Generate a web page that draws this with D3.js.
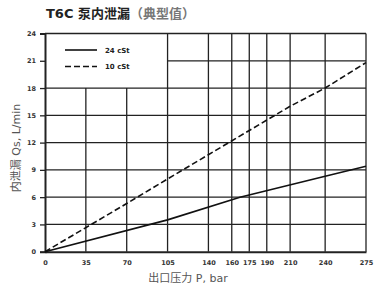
<!DOCTYPE html>
<html>
<head>
<meta charset="utf-8">
<script src="https://cdn.jsdelivr.net/npm/d3@7"></script>
<style>
  body { margin: 0; background: #fff; }
  text { font-family: "DejaVu Sans", "Noto Sans CJK SC", sans-serif; }
</style>
</head>
<body>
<div class="chart"></div>
<script>
// Data
const xTicks = [0, 35, 70, 105, 140, 160, 175, 190, 210, 240, 275];
const yTicks = [0, 3, 6, 9, 12, 15, 18, 21, 24];
const pressure24 = [0, 105, 167, 240, 275];
const leak24 = [0, 3.5, 6, 8.3, 9.4];
const pressure10 = [0, 70, 105, 210, 240, 275];
const leak10 = [0, 5.3, 8, 16, 18, 20.8];

const w = 374, h = 291;
const plotLeft = 45, plotRight = 366, plotTop = 33.5, plotBottom = 251.7;

const svg = d3.select('.chart').append('svg').attr('width', w).attr('height', h);

const x = d3.scaleLinear().domain([0, 275]).range([plotLeft, plotRight]);
const y = d3.scaleLinear().domain([0, 24]).range([plotBottom, plotTop]);

// legend box region (no grid inside)
const boxX = x(105), boxY = y(18);

const grid = svg.append('g').attr('stroke', '#222').attr('stroke-width', 1.3);

// vertical grid lines
xTicks.filter(d => d > 0).forEach(d => {
  const y0 = d < 105 ? boxY : plotTop;
  grid.append('line').attr('x1', x(d)).attr('x2', x(d)).attr('y1', y0).attr('y2', plotBottom);
});
// horizontal grid lines
yTicks.filter(d => d > 0).forEach(d => {
  const x0 = d > 18 && d < 24 ? boxX : plotLeft;
  grid.append('line').attr('x1', x0).attr('x2', plotRight).attr('y1', y(d)).attr('y2', y(d));
});

// axes
const yAxis = d3.axisLeft(y).tickValues(yTicks).tickSize(5).tickPadding(4).tickFormat(d3.format('d'));
const yAxisG = svg.append('g').attr('transform', `translate(${plotLeft},0)`).call(yAxis);
yAxisG.select('.domain').attr('stroke', '#222').attr('stroke-width', 2);
yAxisG.selectAll('.tick line').attr('stroke', '#222').attr('stroke-width', 1.3);
yAxisG.selectAll('.tick text').style('font-size', '6.5px').style('font-weight', 'bold').attr('fill', '#333');

const xAxis = d3.axisBottom(x).tickValues(xTicks).tickSize(0).tickPadding(9).tickFormat(d3.format('d'));
const xAxisG = svg.append('g').attr('transform', `translate(0,${plotBottom})`).call(xAxis);
xAxisG.select('.domain').attr('stroke', '#222').attr('stroke-width', 2);
xAxisG.selectAll('.tick text').style('font-size', '6.5px').style('font-weight', 'bold').attr('fill', '#333');

// series
const line = d3.line().x(d => x(d[0])).y(d => y(d[1]));
svg.append('path')
  .datum(pressure24.map((p, i) => [p, leak24[i]]))
  .attr('d', line).attr('fill', 'none').attr('stroke', '#111').attr('stroke-width', 1.6);
svg.append('path')
  .datum(pressure10.map((p, i) => [p, leak10[i]]))
  .attr('d', line).attr('fill', 'none').attr('stroke', '#111').attr('stroke-width', 1.6)
  .attr('stroke-dasharray', '6,3');

// legend
const legend = svg.append('g');
legend.append('line').attr('x1', 65).attr('x2', 97).attr('y1', 50).attr('y2', 50)
  .attr('stroke', '#111').attr('stroke-width', 1.6);
legend.append('line').attr('x1', 65).attr('x2', 97).attr('y1', 66.5).attr('y2', 66.5)
  .attr('stroke', '#111').attr('stroke-width', 1.6).attr('stroke-dasharray', '6,3');
legend.append('text').attr('x', 105).attr('y', 52.5).style('font-size', '7px')
  .style('font-weight', 'bold').attr('fill', '#222').text('24 cSt');
legend.append('text').attr('x', 105).attr('y', 69).style('font-size', '7px')
  .style('font-weight', 'bold').attr('fill', '#222').text('10 cSt');

// title
const title = svg.append('text').attr('x', 46).attr('y', 18).style('font-size', '13px');
title.append('tspan').style('font-weight', 'bold').attr('fill', '#222').text('T6C 泵内泄漏');
title.append('tspan').attr('fill', '#777').style('font-weight', 'bold').text('（典型值）');

// axis labels
svg.append('text').attr('x', 188).attr('y', 282).attr('text-anchor', 'middle')
  .style('font-size', '11px').attr('fill', '#555').text('出口压力 P, bar');
svg.append('text').attr('transform', 'rotate(-90)').attr('x', -148).attr('y', 20)
  .attr('text-anchor', 'middle').style('font-size', '11px').attr('fill', '#555')
  .text('内泄漏 Qs, L/min');
</script>
</body>
</html>
